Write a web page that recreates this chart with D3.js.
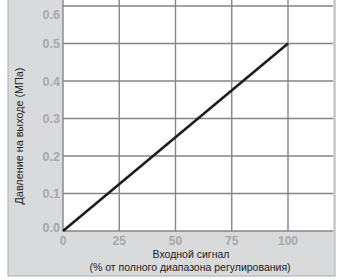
<!DOCTYPE html>
<html><head><meta charset="utf-8">
<script src="https://cdn.jsdelivr.net/npm/d3@7"></script>
<style>body{margin:0;background:#fff}svg{display:block}</style>
</head><body>
<script>
const xTicks = [0, 25, 50, 75, 100];
const yTicks = [0.0, 0.1, 0.2, 0.3, 0.4, 0.5, 0.6];
const signal = [0, 100];
const pressure = [0.0, 0.5];
const xTitle1 = "Входной сигнал";
const xTitle2 = "(% от полного диапазона регулирования)";
const yTitle = "Давление на выходе (МПа)";

const W = 339, H = 280;
const svg = d3.select("body").append("svg").attr("width", W).attr("height", H);
const x = d3.scaleLinear().domain([0, 120]).range([63, 333]);
const y = d3.scaleLinear().domain([0, 0.6]).range([231, 6]);

// background panel
svg.append("rect").attr("x", 8).attr("y", -2).attr("width", 327).attr("height", 278)
  .attr("fill", "#d9dadc").attr("stroke", "#a9abae").attr("stroke-width", 1);
svg.append("rect").attr("x", x(0)).attr("y", 0).attr("width", x(120) - x(0)).attr("height", y(0))
  .attr("fill", "#ffffff");

// grid
svg.append("g").selectAll("line").data(yTicks.slice(1)).join("line")
  .attr("x1", x(0)).attr("x2", x(120)).attr("y1", d => y(d)).attr("y2", d => y(d))
  .attr("stroke", "#858585").attr("stroke-width", 1.4);
svg.append("g").selectAll("line").data(xTicks.slice(1)).join("line")
  .attr("y1", 0).attr("y2", y(0)).attr("x1", d => x(d)).attr("x2", d => x(d))
  .attr("stroke", "#858585").attr("stroke-width", 1.4);
// axes lines
svg.append("line").attr("x1", x(0)).attr("x2", x(120)).attr("y1", y(0)).attr("y2", y(0))
  .attr("stroke", "#858585").attr("stroke-width", 1.4);
svg.append("line").attr("x1", x(0)).attr("x2", x(0)).attr("y1", 0).attr("y2", y(0))
  .attr("stroke", "#858585").attr("stroke-width", 1.4);

// data line
const pts = signal.map((s, i) => [s, pressure[i]]);
svg.append("path").datum(pts)
  .attr("d", d3.line().x(d => x(d[0])).y(d => y(d[1])))
  .attr("fill", "none").attr("stroke", "#1e1e1e").attr("stroke-width", 2.6);

// tick labels
const tickFont = "Liberation Sans, Arial, sans-serif";
svg.append("g").selectAll("text").data(yTicks).join("text")
  .attr("x", 60).attr("y", d => d === 0.6 ? y(d) + 13 : (d === 0 ? y(d) + 1 : y(d) + 4.5))
  .attr("text-anchor", "end").attr("font-family", tickFont).attr("font-size", 12.5)
  .attr("font-weight", "bold").attr("fill", "#a6a8ab")
  .text(d => d.toFixed(1));
svg.append("g").selectAll("text").data(xTicks).join("text")
  .attr("x", d => x(d)).attr("y", 245)
  .attr("text-anchor", "middle").attr("font-family", tickFont).attr("font-size", 12)
  .attr("font-weight", "bold").attr("fill", "#a6a8ab")
  .text(d => d);

// titles
svg.append("text").attr("x", 191).attr("y", 258).attr("text-anchor", "middle")
  .attr("font-family", tickFont).attr("font-size", 10.5).attr("fill", "#222").text(xTitle1);
svg.append("text").attr("x", 190).attr("y", 270.5).attr("text-anchor", "middle")
  .attr("font-family", tickFont).attr("font-size", 10.5).attr("fill", "#222").text(xTitle2);
svg.append("text").attr("transform", "translate(23,136) rotate(-90)").attr("text-anchor", "middle")
  .attr("font-family", tickFont).attr("font-size", 10.8).attr("fill", "#222").text(yTitle);
</script>
</body></html>
